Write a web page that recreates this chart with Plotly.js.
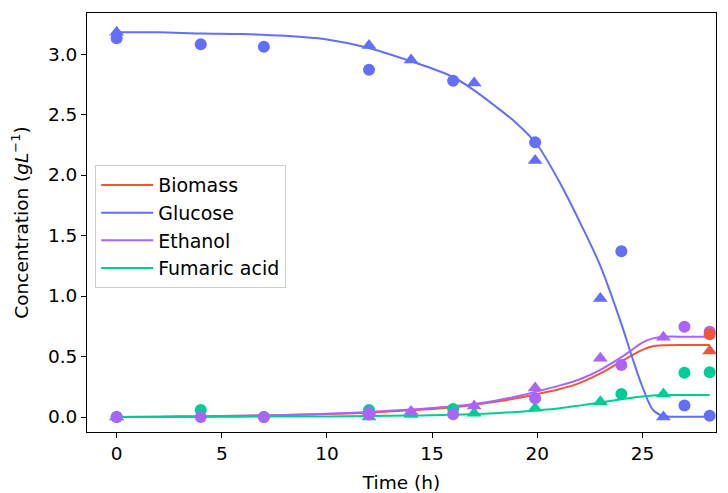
<!DOCTYPE html>
<html>
<head>
<meta charset="utf-8">
<script src="https://cdn.plot.ly/plotly-3.0.1.min.js"></script>
<style>html,body{margin:0;padding:0;background:#fff;}#chart{width:728px;height:493px;}</style>
</head>
<body>
<div id="chart"></div>
<script>
// Model curves (fitted lines)
const modelTime    = [0, 2, 4, 6, 8, 10, 12, 14, 15, 16, 17, 18, 19, 20, 21, 22, 23, 24, 24.5, 25, 25.5, 26, 27, 28.2];
const biomassModel = [0, 0.002, 0.005, 0.01, 0.016, 0.024, 0.036, 0.055, 0.066, 0.08, 0.1, 0.125, 0.155, 0.19, 0.228, 0.28, 0.36, 0.46, 0.51, 0.555, 0.585, 0.593, 0.595, 0.595];
const glucoseModel = [3.18, 3.18, 3.17, 3.165, 3.15, 3.12, 3.05, 2.94, 2.88, 2.81, 2.7, 2.57, 2.43, 2.25, 1.96, 1.62, 1.25, 0.77, 0.5, 0.25, 0.06, 0.008, 0.002, 0.002];
const ethanolModel = [0, 0.002, 0.005, 0.01, 0.017, 0.027, 0.042, 0.062, 0.074, 0.088, 0.108, 0.135, 0.17, 0.212, 0.257, 0.31, 0.39, 0.495, 0.555, 0.615, 0.65, 0.663, 0.664, 0.664];
const fumaricModel = [0, 0.001, 0.002, 0.003, 0.004, 0.005, 0.008, 0.012, 0.014, 0.018, 0.024, 0.032, 0.042, 0.055, 0.07, 0.094, 0.12, 0.147, 0.16, 0.17, 0.177, 0.181, 0.182, 0.182];

// Measurements, replicate 1 (circles)
const glucoseT1 = [0, 4, 7, 12, 16, 19.9, 24, 27, 28.2];
const glucoseY1 = [3.13, 3.08, 3.06, 2.87, 2.78, 2.27, 1.37, 0.095, 0.01];
const ethanolT1 = [0, 4, 7, 12, 16, 19.9, 24, 27, 28.2];
const ethanolY1 = [0.0, 0.0, 0.0, 0.02, 0.022, 0.155, 0.43, 0.746, 0.705];
const fumaricT1 = [0, 4, 7, 12, 16, 24, 27, 28.2];
const fumaricY1 = [0.0, 0.058, 0.0, 0.058, 0.066, 0.19, 0.365, 0.37];
const biomassT1 = [28.2];
const biomassY1 = [0.683];

// Measurements, replicate 2 (triangles)
const glucoseT2 = [0, 12, 14, 17, 19.9, 23, 26];
const glucoseY2 = [3.18, 3.07, 2.95, 2.76, 2.12, 0.98, 0.0];
const ethanolT2 = [0, 12, 14, 17, 19.9, 23, 26];
const ethanolY2 = [0.0, 0.045, 0.045, 0.09, 0.24, 0.485, 0.66];
const fumaricT2 = [0, 12, 14, 17, 19.9, 23, 26];
const fumaricY2 = [0.0, 0.0, 0.02, 0.032, 0.072, 0.127, 0.19];
const biomassT2 = [28.2];
const biomassY2 = [0.545];

const C = {bio: '#EF553B', glu: '#636EFA', eth: '#AB63FA', fum: '#00CC96'};

function line(name, y, color) {
  return {x: modelTime, y: y, name: name, type: 'scatter', mode: 'lines',
          line: {color: color, width: 2, shape: 'spline', smoothing: 0.8}, showlegend: true};
}
function pts(x, y, color, sym) {
  return {x: x, y: y, type: 'scatter', mode: 'markers', showlegend: false, hoverinfo: 'skip',
          marker: {color: color, size: sym === 'circle' ? 12 : 13, symbol: sym, line: {width: 0}}};
}

const traces = [
  line('Biomass', biomassModel, C.bio),
  line('Glucose', glucoseModel, C.glu),
  line('Ethanol', ethanolModel, C.eth),
  line('Fumaric acid', fumaricModel, C.fum),
  pts(glucoseT1, glucoseY1, C.glu, 'circle'),
  pts(glucoseT2, glucoseY2, C.glu, 'triangle-up'),
  pts(fumaricT1, fumaricY1, C.fum, 'circle'),
  pts(fumaricT2, fumaricY2, C.fum, 'triangle-up'),
  pts(ethanolT1, ethanolY1, C.eth, 'circle'),
  pts(ethanolT2, ethanolY2, C.eth, 'triangle-up'),
  pts(biomassT1, biomassY1, C.bio, 'circle'),
  pts(biomassT2, biomassY2, C.bio, 'triangle-up')
];

const font = {family: 'DejaVu Sans, sans-serif', size: 18.5, color: '#000'};
const layout = {
  width: 728, height: 493,
  margin: {l: 87, r: 12, t: 13, b: 61},
  paper_bgcolor: '#fff', plot_bgcolor: '#fff',
  font: font,
  showlegend: true,
  legend: {x: 0.013, y: 0.637, xanchor: 'left', yanchor: 'top', itemwidth: 52,
           bgcolor: 'rgba(255,255,255,0.8)', bordercolor: '#cccccc', borderwidth: 1,
           font: {family: 'DejaVu Sans, sans-serif', size: 19, color: '#000'}},
  xaxis: {range: [-1.41, 28.5], tickvals: [0, 5, 10, 15, 20, 25], ticks: 'outside', ticklen: 5,
          tickcolor: '#000', showline: true, mirror: true, linecolor: '#000', linewidth: 1,
          showgrid: false, zeroline: false,
          title: {text: 'Time (h)', font: font, standoff: 13}},
  yaxis: {range: [-0.124, 3.339], tickvals: [0, 0.5, 1, 1.5, 2, 2.5, 3], tickformat: '.1f',
          ticks: 'outside', ticklen: 5, tickcolor: '#000', showline: true, mirror: true,
          linecolor: '#000', linewidth: 1, showgrid: false, zeroline: false,
          title: {text: 'Concentration (<i>gL</i><sup>−1</sup>)', font: font, standoff: 14}}
};

Plotly.newPlot('chart', traces, layout, {displayModeBar: false, staticPlot: true});
</script>
</body>
</html>
